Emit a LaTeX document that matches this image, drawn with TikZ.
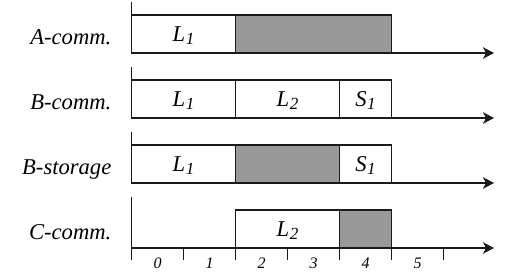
\documentclass[tikz,border=0pt]{standalone}
\usepackage{fontspec}
\setmainfont{Liberation Serif}
\usetikzlibrary{arrows.meta}
\newcommand{\lsub}[2]{\textit{#1\kern0.5pt\raisebox{-3.3pt}{\fontsize{17}{17}\selectfont #2}}}
\definecolor{lnc}{HTML}{1A1A1A}
\definecolor{shade}{HTML}{999999}
\begin{document}
\begin{tikzpicture}[x=1pt,y=-1pt,line width=1.4pt,
  seg/.style={draw=lnc, fill=white, outer sep=0pt, inner sep=0pt, anchor=south west, minimum height=38pt},
  gseg/.style={seg, fill=shade},
  rowlab/.style={anchor=base east, inner sep=0pt, font=\fontsize{22.6}{22.6}\selectfont\itshape},
  boxlab/.style={anchor=base, inner sep=0pt, font=\fontsize{22.6}{22.6}\selectfont},
  numlab/.style={anchor=base, inner sep=0pt, font=\fontsize{16}{16}\selectfont\itshape},
  axis/.style={draw=lnc, -{Stealth[length=11pt,width=11.5pt,inset=3pt]}},
  tick/.style={draw=lnc}]
\useasboundingbox (0,0) rectangle (507,278);

% Row 1: A-comm.
\node[seg, minimum width=104pt] (a1) at (131.5,53) {};
\node[gseg, minimum width=156pt] (a2) at (235.5,53) {};
\node[boxlab] (ta1) at (183.5,41.5) {\lsub{L}{1}};
\coordinate (oa) at (131.5,2);
\coordinate (ea) at (494,53);
\draw[axis] (oa) |- (ea);
\node[rowlab] (la) at (112,45) {A-comm.};

% Row 2: B-comm.
\node[seg, minimum width=104pt] (b1) at (131.5,118) {};
\node[seg, minimum width=104pt] (b2) at (235.5,118) {};
\node[seg, minimum width=52pt] (b3) at (339.5,118) {};
\node[boxlab] (tb1) at (183.5,106.5) {\lsub{L}{1}};
\node[boxlab] (tb2) at (287.5,106.5) {\lsub{L}{2}};
\node[boxlab] (tb3) at (365.5,106.5) {\lsub{S}{1}};
\coordinate (ob) at (131.5,67);
\coordinate (eb) at (494,118);
\draw[axis] (ob) |- (eb);
\node[rowlab] (lb) at (112,110) {B-comm.};

% Row 3: B-storage
\node[seg, minimum width=104pt] (c1) at (131.5,183) {};
\node[gseg, minimum width=104pt] (c2) at (235.5,183) {};
\node[seg, minimum width=52pt] (c3) at (339.5,183) {};
\node[boxlab] (tc1) at (183.5,171.5) {\lsub{L}{1}};
\node[boxlab] (tc3) at (365.5,171.5) {\lsub{S}{1}};
\coordinate (oc) at (131.5,132);
\coordinate (ec) at (494,183);
\draw[axis] (oc) |- (ec);
\node[rowlab] (lc) at (112,175) {B-storage};

% Row 4: C-comm.
\node[seg, minimum width=104pt] (d2) at (235.5,248) {};
\node[gseg, minimum width=52pt] (d3) at (339.5,248) {};
\node[boxlab] (td2) at (287.5,236.5) {\lsub{L}{2}};
\coordinate (od) at (131.5,197);
\coordinate (zd) at (131.5,260);
\coordinate (sd) at (131.5,248);
\coordinate (ed) at (494,248);
\draw[tick] (od) -- (zd);
\draw[axis] (sd) -- (ed);
\node[rowlab] (ld) at (112,240) {C-comm.};

% ticks and numbers
\foreach \k in {1,...,6} {
  \coordinate (t\k a) at (131.5+52*\k,248);
  \coordinate (t\k b) at (131.5+52*\k,260);
  \draw[tick] (t\k a) -- (t\k b);
}
\foreach \k in {0,...,5} {
  \node[numlab] (n\k) at (157.5+52*\k,268.5) {\k};
}
\end{tikzpicture}
\end{document}
